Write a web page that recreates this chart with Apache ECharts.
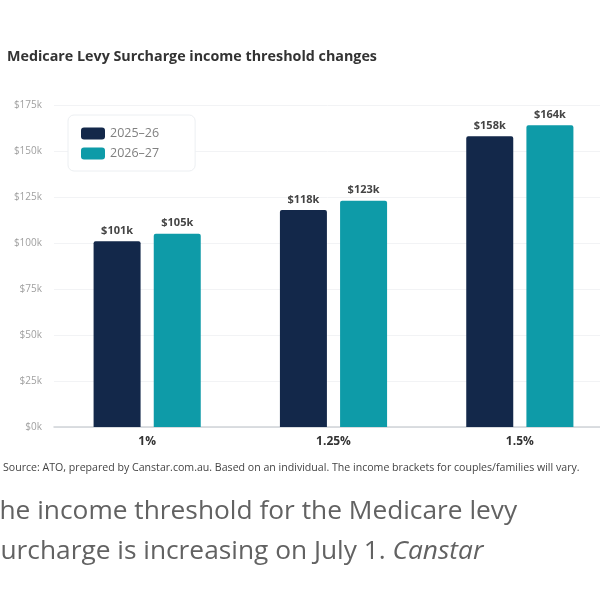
<!DOCTYPE html>
<html><head><meta charset="utf-8">
<script src="https://cdn.jsdelivr.net/npm/echarts@6/dist/echarts.min.js"></script>
<style>html,body{margin:0;padding:0;background:#fff}#c{width:600px;height:600px}</style>
</head><body><div id="c"></div>
<script>
const categories = ['1%', '1.25%', '1.5%'];
const series2025 = [101, 118, 158];
const series2026 = [105, 123, 164];
const seriesNames = ['2025–26', '2026–27'];
const yTicks = [0, 25, 50, 75, 100, 125, 150, 175];

const chart = echarts.init(document.getElementById('c'));
const font = '"Open Sans", "Noto Sans", sans-serif';
chart.setOption({
  backgroundColor: '#fff',
  animation: false,
  title: {
    text: 'Medicare Levy Surcharge income threshold changes',
    left: 2, top: 45,
    textStyle: { fontFamily: font, fontSize: 14.3, fontWeight: 'bold', color: '#333' }
  },
  legend: {
    left: 68, top: 115,
    orient: 'vertical',
    padding: [12, 36, 11, 13],
    itemGap: 7,
    itemWidth: 24, itemHeight: 12,
    borderColor: '#eceff2', borderWidth: 1, borderRadius: 6,
    backgroundColor: '#fff',
    icon: 'roundRect',
    textStyle: { fontFamily: font, fontSize: 12.5, color: '#808080' },
    data: seriesNames
  },
  grid: { left: 54, width: 559, top: 105, height: 322, outerBoundsMode: 'none' },
  xAxis: {
    type: 'category',
    data: categories,
    axisLine: { lineStyle: { color: '#cfd3d8', width: 1.5 } },
    axisTick: { show: false },
    axisLabel: { fontFamily: font, fontSize: 12, fontWeight: 'bold', color: '#333', margin: 9 }
  },
  yAxis: {
    type: 'value',
    min: yTicks[0], max: yTicks[yTicks.length - 1], interval: 25,
    axisLine: { show: false },
    axisTick: { show: false },
    splitLine: { lineStyle: { color: '#f2f3f5', width: 1 } },
    axisLabel: { fontFamily: font, fontSize: 10, color: '#a0a0a0', margin: 12,
      formatter: v => '$' + v + 'k' }
  },
  series: [
    { name: seriesNames[0], type: 'bar', data: series2025, barWidth: 47, barGap: '28%',
      itemStyle: { color: '#13284a', borderRadius: [2, 2, 0, 0] },
      label: { show: true, position: 'top', distance: 5, fontFamily: font, fontSize: 11, fontWeight: 'bold', color: '#444',
        formatter: p => '$' + p.value + 'k' } },
    { name: seriesNames[1], type: 'bar', data: series2026, barWidth: 47,
      itemStyle: { color: '#0e9ba8', borderRadius: [2, 2, 0, 0] },
      label: { show: true, position: 'top', distance: 5, fontFamily: font, fontSize: 11, fontWeight: 'bold', color: '#444',
        formatter: p => '$' + p.value + 'k' } }
  ],
  graphic: [
    { type: 'text', left: 3, top: 462,
      style: { text: 'Source: ATO, prepared by Canstar.com.au. Based on an individual. The income brackets for couples/families will vary.',
        fontFamily: font, fontSize: 10.6, fill: '#444' } },
    { type: 'text', left: -15, top: 499,
      style: { text: 'The income threshold for the Medicare levy', fontFamily: font, fontSize: 26.3, fill: '#626262' } },
    { type: 'text', left: -14, top: 539,
      style: { text: '{n|Surcharge is increasing on July 1. }{i|Canstar}',
        rich: { n: { fontFamily: font, fontSize: 26.3, fill: '#626262', color: '#626262' },
                i: { fontFamily: font, fontSize: 26.3, fontStyle: 'italic', fill: '#626262', color: '#626262' } } } }
  ]
});
</script></body></html>
